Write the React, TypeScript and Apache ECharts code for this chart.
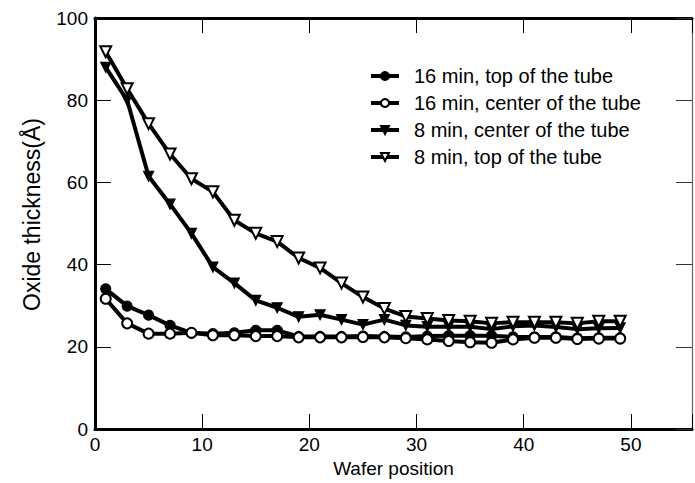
import React, { useEffect, useRef } from "react";
import * as echarts from "echarts";

const wafer = [1, 3, 5, 7, 9, 11, 13, 15, 17, 19, 21, 23, 25, 27, 29, 31, 33, 35, 37, 39, 41, 43, 45, 47, 49];
const top16 = [34.1, 29.9, 27.7, 25.2, 23.4, 23.2, 23.4, 24.0, 24.0, 22.5, 22.5, 22.5, 22.6, 22.5, 22.4, 22.6, 22.7, 22.7, 22.7, 22.4, 22.4, 22.4, 22.1, 22.2, 22.2];
const center16 = [31.7, 25.7, 23.2, 23.2, 23.4, 22.8, 22.8, 22.6, 22.6, 22.3, 22.3, 22.3, 22.4, 22.3, 22.1, 21.8, 21.4, 21.1, 21.0, 21.8, 22.2, 22.2, 21.9, 22.0, 22.0];
const center8 = [88, 80, 61.5, 54.7, 47.6, 39.4, 35.5, 31.3, 29.5, 27.3, 27.8, 26.6, 25.4, 26.6, 25.2, 24.9, 24.9, 24.9, 24.3, 25.0, 25.2, 24.8, 24.3, 24.5, 24.6];
const top8 = [91.8, 82.8, 74.3, 66.9, 60.9, 57.7, 50.8, 47.6, 45.6, 41.6, 39.2, 35.5, 32.1, 29.3, 27.4, 26.9, 26.4, 26.2, 25.7, 26.0, 26.0, 26.0, 25.7, 26.2, 26.2];
const seriesNames = [
  "16 min, top of the tube",
  "16 min, center of the tube",
  "8 min, center of the tube",
  "8 min, top of the tube",
];
const xTicks = [0, 10, 20, 30, 40, 50];

const FONT = "'Liberation Sans', Arial, sans-serif";

export default function App() {
  const ref = useRef<HTMLDivElement>(null);
  useEffect(() => {
    if (!ref.current) return;
    const chart = echarts.init(ref.current, undefined, { renderer: "svg" });
    const pair = (v: number[]) => wafer.map((x, i) => [x, v[i]]);
    const base = {
      type: "line",
      xAxisIndex: 0,
      yAxisIndex: 0,
      lineStyle: { color: "#000", width: 4 },
      itemStyle: { color: "#000", borderColor: "#000", borderWidth: 1.2 },
      symbolSize: 10,
    };
    const xLabelFmt = (v: number) => (xTicks.includes(v) ? String(v) : "");
    chart.setOption({
      animation: false,
      backgroundColor: "#fff",
      textStyle: { fontFamily: FONT },
      grid: { left: 95, top: 18, width: 599, height: 412, containLabel: false },
      legend: {
        orient: "vertical",
        left: 364,
        top: 61,
        itemWidth: 28,
        itemHeight: 10,
        itemGap: 7,
        data: seriesNames,
        lineStyle: { width: 4, color: "#000" },
        textStyle: { fontFamily: FONT, fontSize: 20, color: "#000", lineHeight: 20, padding: [0, 0, 0, 10] },
      },
      xAxis: [
        {
          type: "value",
          position: "bottom",
          min: 0,
          max: 55.7,
          interval: 10,
          splitLine: { show: false },
          axisLine: { onZero: false, lineStyle: { color: "#000", width: 3 } },
          axisTick: { inside: true, length: 15, lineStyle: { color: "#000", width: 1 } },
          axisLabel: { color: "#000", fontSize: 19, fontFamily: FONT, margin: 6, formatter: xLabelFmt },
          name: "Wafer position",
          nameLocation: "middle",
          nameGap: 30,
          nameTextStyle: { color: "#000", fontSize: 19, fontFamily: FONT },
        },
        {
          type: "value",
          position: "top",
          min: 0,
          max: 55.7,
          interval: 10,
          splitLine: { show: false },
          axisLine: { onZero: false, lineStyle: { color: "#000", width: 3 } },
          axisTick: { inside: true, length: 15, lineStyle: { color: "#000", width: 1 } },
          axisLabel: { show: false },
        },
      ],
      yAxis: [
        {
          type: "value",
          position: "left",
          min: 0,
          max: 100,
          interval: 20,
          splitLine: { show: false },
          axisLine: { onZero: false, lineStyle: { color: "#000", width: 3 } },
          axisTick: { inside: true, length: 16, lineStyle: { color: "#000", width: 1 } },
          axisLabel: { color: "#000", fontSize: 19, fontFamily: FONT, margin: 7 },
          name: "Oxide thickness(Å)",
          nameLocation: "middle",
          nameGap: 52,
          nameRotate: 90,
          nameTextStyle: { color: "#000", fontSize: 23, fontFamily: FONT, padding: [0, 0, 0, 18] },
        },
        {
          type: "value",
          position: "right",
          min: 0,
          max: 100,
          interval: 20,
          splitLine: { show: false },
          axisLine: { onZero: false, lineStyle: { color: "#666", width: 1.2 } },
          axisTick: { inside: true, length: 16, lineStyle: { color: "#333", width: 1 } },
          axisLabel: { show: false },
        },
      ],
      series: [
        { ...base, name: seriesNames[0], symbol: "circle", data: pair(top16) },
        { ...base, name: seriesNames[1], symbol: "emptyCircle", data: pair(center16) },
        { ...base, name: seriesNames[2], symbol: "triangle", symbolRotate: 180, data: pair(center8) },
        { ...base, name: seriesNames[3], symbol: "emptyTriangle", symbolRotate: 180, symbolSize: 11, data: pair(top8) },
      ],
    });
    return () => chart.dispose();
  }, []);
  return (
    <div style={{ position: "fixed", left: 0, top: 0, width: 695, height: 483, overflow: "hidden", background: "#fff" }}>
      <div ref={ref} style={{ width: 695, height: 483 }} />
    </div>
  );
}
